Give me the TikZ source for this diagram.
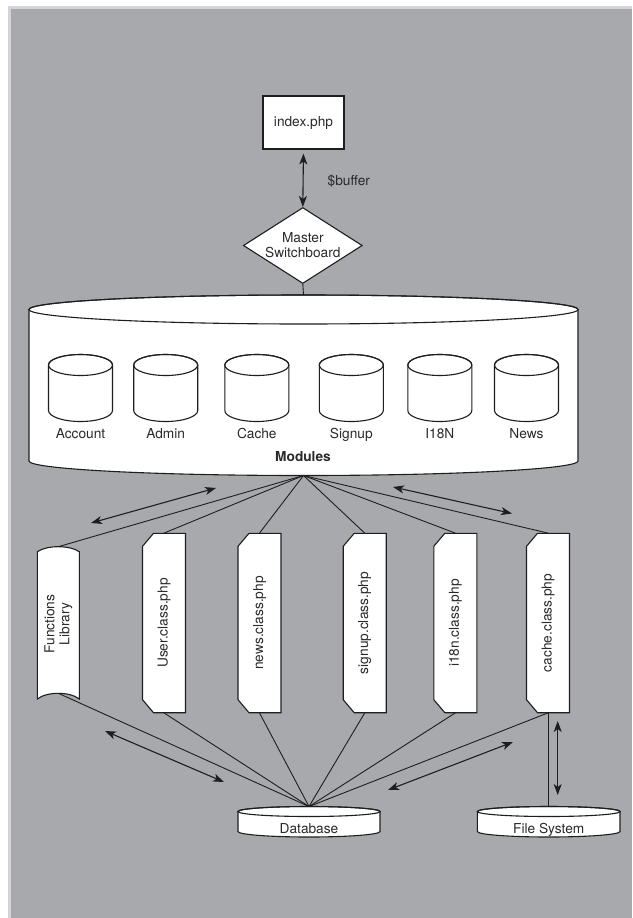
\documentclass[tikz,border=0pt]{standalone}
\usepackage{fontspec}
\setmainfont{TeX Gyre Heros}
\usepackage{graphicx}
\usetikzlibrary{arrows.meta,shapes.geometric,calc}
\definecolor{bggray}{HTML}{A8A9AC}
\definecolor{bgedge}{HTML}{D4D4D6}
\definecolor{ink}{HTML}{1E1E1E}
\definecolor{txt}{HTML}{2A2A2A}
\begin{document}
\begin{tikzpicture}[x=1pt,y=-1pt,
  shapeline/.style={draw=ink, line width=1.1pt, fill=white},
  conn/.style={draw=ink, line width=0.9pt},
  dbl/.style={draw=ink, line width=1.1pt, >={Stealth[length=11pt,width=8pt,inset=3pt]}, <->},
  lbl/.style={text=txt, font=\fontsize{13.7}{15}\selectfont, inner sep=0pt}]
\useasboundingbox (0,0) rectangle (632,918);
\fill[white] (0,0) rectangle (632,918);
\fill[bgedge] (8,6) rectangle (632,918);
\fill[bggray] (11,9) rectangle (632,918);

% index.php and switchboard
\node[lbl, draw=ink, line width=1.1pt, fill=white, minimum width=81pt, minimum height=53pt] (idx) at (303.5,122.5) {index.php};
\node[lbl, diamond, draw=ink, line width=1.1pt, fill=white, aspect=1.57, minimum width=119pt, minimum height=76pt, align=center] (msb) at (302.8,245.5) {Master\\Switchboard};
\node[lbl, anchor=west] (buf) at (327.5,181.5) {\$buffer};
\draw[dbl, shorten <=4pt] (idx.south) -- (msb.north);

% Modules cylinder
\path[shapeline] (29,309.5) -- (29,461) arc[start angle=180,end angle=360,x radius=274.5pt,y radius=14.5pt] -- (578,309.5) arc[start angle=0,end angle=180,x radius=274.5pt,y radius=14.5pt] -- cycle;
\draw[shapeline, fill=none] (303.5,309.5) ellipse[x radius=274.5pt,y radius=14.5pt];
\coordinate (modtop) at (303.5,295);
\coordinate (modbot) at (303.5,475.5);
\draw[conn] (msb.south) -- (modtop);
\node[lbl, font=\fontsize{13.7}{15}\selectfont\bfseries, anchor=base] (modlbl) at (303,461.5) {Modules};

\foreach \cx/\nm/\tx in {80.5/acc/Account, 165.7/adm/Admin, 256.8/cch/Cache, 351.3/sgn/Signup, 439.8/itn/I18N, 526.5/nws/News} {
  \path[shapeline] (\cx-32,365) -- (\cx-32,410.5) arc[start angle=180,end angle=360,x radius=32pt,y radius=11pt] -- (\cx+32,365) arc[start angle=0,end angle=180,x radius=32pt,y radius=10.5pt] -- cycle;
  \draw[shapeline, fill=none] (\cx,365) ellipse[x radius=32pt,y radius=10.5pt];
  \node[lbl, anchor=base] (\nm) at (\cx,438) {\tx};
}

% Functions library
\path[shapeline] (37.3,551.7) .. controls (47,545) and (69.6,545) .. (79.3,551.7) -- (79.3,699) .. controls (69.6,691.4) and (47,691.4) .. (37.3,699) -- cycle;
\node[lbl, rotate=90, align=center] (fl) at (58.3,624) {Functions\\Library};
\coordinate (fltop) at (58.3,546.7);
\coordinate (flbot) at (58.3,693.3);

% class boxes
\foreach \cx/\nm/\tx in {164/usr/User.class.php, 259.5/nwc/news.class.php, 364.7/sgc/signup.class.php, 455.3/itc/i18n.class.php, 548/cac/cache.class.php} {
  \path[shapeline] (\cx-21.5,546.3) -- (\cx-10.5,533.3) -- (\cx+21.5,533.3) -- (\cx+21.5,712.7) -- (\cx-10.5,712.7) -- (\cx-21.5,699.7) -- cycle;
  \node[lbl, minimum width=43pt, minimum height=179.4pt] (\nm) at (\cx,623) {\rotatebox{90}{\tx}};
}

% Database and file system
\path[shapeline] (238,811.5) -- (238,831.5) arc[start angle=180,end angle=360,x radius=71pt,y radius=5.5pt] -- (380,811.5) arc[start angle=0,end angle=180,x radius=71pt,y radius=5pt] -- cycle;
\draw[shapeline, fill=none] (309,811.5) ellipse[x radius=71pt,y radius=5pt];
\node[lbl, anchor=base] (db) at (309,833) {Database};
\coordinate (dbtop) at (309,806.5);

\path[shapeline] (477.4,811.5) -- (477.4,831.5) arc[start angle=180,end angle=360,x radius=71.3pt,y radius=5.5pt] -- (620,811.5) arc[start angle=0,end angle=180,x radius=71.3pt,y radius=5pt] -- cycle;
\draw[shapeline, fill=none] (548.7,811.5) ellipse[x radius=71.3pt,y radius=5pt];
\node[lbl, anchor=base] (fs) at (548.7,833) {File System};
\coordinate (fstop) at (548.7,806.5);

% connectors
\foreach \n in {fltop, usr.north, nwc.north, sgc.north, itc.north, cac.north}
  \draw[conn] (modbot) -- (\n);
\foreach \n in {flbot, usr.south, nwc.south, sgc.south, itc.south, cac.south}
  \draw[conn] (\n) -- (dbtop);
\draw[conn] (cac.south) -- (cac.south |- fstop);

% double arrows
\coordinate (aul1) at (91,523);   \coordinate (aul2) at (216,488);
\coordinate (aur1) at (393,487);  \coordinate (aur2) at (512,513.5);
\coordinate (all1) at (105,731);  \coordinate (all2) at (224,782);
\coordinate (alr1) at (388,790);  \coordinate (alr2) at (513,742);
\coordinate (afs1) at (557.7,721); \coordinate (afs2) at (557.7,795);
\draw[dbl] (aul1) -- (aul2);
\draw[dbl] (aur1) -- (aur2);
\draw[dbl] (all1) -- (all2);
\draw[dbl] (alr1) -- (alr2);
\draw[dbl] (afs1) -- (afs2);
\end{tikzpicture}
\end{document}
